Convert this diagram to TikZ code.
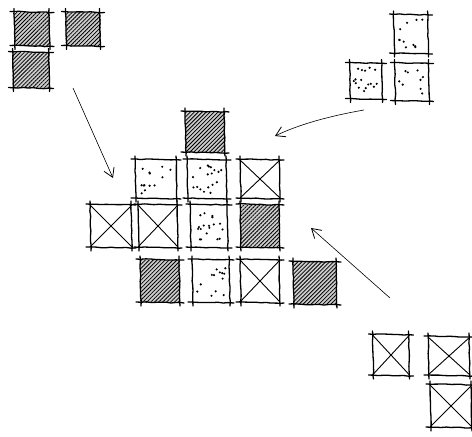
\documentclass[tikz,border=0pt]{standalone}
\usetikzlibrary{patterns.meta,calc,arrows.meta,decorations.pathmorphing}
\pgfmathsetseed{12}
\tikzset{
  sqbox/.style={draw=none, inner sep=0pt, outer sep=0pt},
  hatched/.style={preaction={fill=gray!40}, pattern={Lines[angle=45,distance=2.8pt,line width=0.8pt]}, pattern color=black},
  sketch/.style={line width=1.3pt, line cap=round, decorate,
     decoration={random steps, segment length=5pt, amplitude=0.4pt}},
  thinsketch/.style={line width=0.9pt, line cap=round},
  flow/.style={line width=0.6pt, -{Straight Barb[length=9pt,width=11pt,line width=0.8pt]}},
  dotmark/.style={fill=black}
}
% #1 name, #2 cx, #3 cy, #4 w, #5 h, #6 node style
\newcommand\skbox[6]{%
  \node[sqbox, minimum width=#4pt, minimum height=#5pt, #6] (#1) at (#2,#3) {};
  \draw[sketch] ([xshift=-4pt,yshift=1pt]#1.north west) -- ([xshift=4pt]#1.north east);
  \draw[sketch] ([xshift=-4pt]#1.south west) -- ([xshift=4pt,yshift=-1pt]#1.south east);
  \draw[sketch] ([yshift=4pt]#1.north west) -- ([yshift=-4pt,xshift=1pt]#1.south west);
  \draw[sketch] ([yshift=4pt,xshift=-1pt]#1.north east) -- ([yshift=-4pt]#1.south east);
}
\newcommand\skcross[1]{%
  \draw[thinsketch] (#1.north west) -- (#1.south east);
  \draw[thinsketch] (#1.north east) -- (#1.south west);
}
% #1 name, #2 count, #3 w, #4 h
\newcommand\skdots[4]{%
  \foreach \k in {1,...,#2}{%
    \pgfmathsetmacro\dx{rand*0.38*#3}%
    \pgfmathsetmacro\dy{rand*0.38*#4}%
    \fill[dotmark] ($(#1.center)+(\dx,\dy)$) circle (1.2pt);
  }%
}
\begin{document}
\begin{tikzpicture}[x=1pt,y=-1pt]
\useasboundingbox (0,0) rectangle (472,437);
% top-left group (hatched)
\skbox{tl1}{32}{29}{36}{33}{hatched}
\skbox{tl2}{83}{29}{35}{33}{hatched}
\skbox{tl3}{31}{70}{37}{35}{hatched}
% top-right group (dotted)
\skbox{tr1}{411}{34}{35}{38}{}
\skdots{tr1}{11}{35}{38}
\skbox{tr2}{366}{81}{33}{35}{}
\skdots{tr2}{16}{33}{35}
\skbox{tr3}{412}{82}{35}{37}{}
\skdots{tr3}{9}{35}{37}
% central composition
\skbox{c0}{205}{132}{40}{40}{hatched}
\skbox{c11}{156}{179}{42}{38}{}
\skdots{c11}{13}{42}{38}
\skbox{c12}{207}{179}{40}{38}{}
\skdots{c12}{18}{40}{38}
\skbox{c13}{260}{179}{40}{38}{}
\skcross{c13}
\skbox{c21}{111}{226}{42}{42}{}
\skcross{c21}
\skbox{c22}{158}{226}{40}{42}{}
\skcross{c22}
\skbox{c23}{209}{226}{38}{42}{}
\skdots{c23}{18}{38}{42}
\skbox{c24}{260}{226}{40}{42}{hatched}
\skbox{c31}{160}{281}{40}{42}{hatched}
\skbox{c32}{211}{281}{38}{42}{}
\skdots{c32}{13}{38}{42}
\skbox{c33}{260}{281}{40}{42}{}
\skcross{c33}
\skbox{c34}{315}{283}{44}{42}{hatched}
% bottom-right group (crossed)
\skbox{br1}{391}{355}{37}{40}{}
\skcross{br1}
\skbox{br2}{449}{356}{42}{38}{}
\skcross{br2}
\skbox{br3}{451}{406}{42}{42}{}
\skcross{br3}
% arrows
\coordinate (a1s) at (73,88);
\coordinate (a1e) at (113,178);
\coordinate (a2s) at (364,110);
\coordinate (a2e) at (275,136);
\coordinate (a3s) at (390,298);
\coordinate (a3e) at (311,228);
\draw[flow] (a1s) -- (a1e);
\draw[flow] (a2s) .. controls (330,116) and (300,124) .. (a2e);
\draw[flow] (a3s) -- (a3e);
\end{tikzpicture}
\end{document}
